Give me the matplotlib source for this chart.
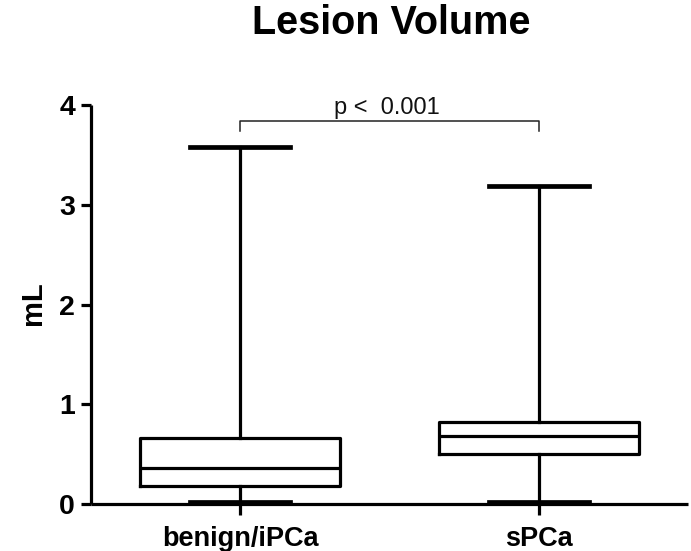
import matplotlib
matplotlib.use('Agg')
import matplotlib.pyplot as plt

categories = ['benign/iPCa', 'sPCa']
whisker_low = [0.02, 0.02]
q1 = [0.185, 0.50]
median = [0.36, 0.68]
q3 = [0.66, 0.82]
whisker_high = [3.58, 3.19]
yticks = [0, 1, 2, 3, 4]
p_text = 'p <  0.001'
title = 'Lesion Volume'
ylabel = 'mL'

plt.rcParams['font.family'] = ['Liberation Sans', 'DejaVu Sans']

fig = plt.figure(figsize=(6.91, 5.51), dpi=100)
ax = fig.add_axes([0.1317, 0.0853, 0.864, 0.7241])

positions = list(range(1, len(categories) + 1))
stats = [dict(label=c, whislo=wl, q1=a, med=m, q3=b, whishi=wh, fliers=[])
         for c, wl, a, m, b, wh in zip(categories, whisker_low, q1, median, q3, whisker_high)]

lw = 2.3
ax.bxp(stats, positions=positions, widths=0.67, showfliers=False,
       boxprops=dict(linewidth=lw, color='black', solid_joinstyle='round'),
       medianprops=dict(linewidth=lw, color='black'),
       whiskerprops=dict(linewidth=lw, color='black'),
       capprops=dict(linewidth=3.4, color='black'))

ax.set_xlim(0.5, 2.5)
ax.set_ylim(0, 4)
ax.set_yticks(yticks)
ax.set_yticklabels([str(t) for t in yticks])
ax.set_xticks(positions)
ax.set_xticklabels(categories)

for s in ['top', 'right']:
    ax.spines[s].set_visible(False)
for s in ['left', 'bottom']:
    ax.spines[s].set_linewidth(lw)
    ax.spines[s].set_capstyle('butt')

ax.tick_params(axis='y', direction='out', length=7, width=lw, pad=4.5, labelsize=20.5)
ax.tick_params(axis='x', direction='out', length=8, width=lw, pad=7.5, labelsize=19.5)
for lab in ax.get_xticklabels() + ax.get_yticklabels():
    lab.set_fontweight('bold')

# significance bracket
ax.plot([positions[0], positions[0], positions[1], positions[1]],
        [3.74, 3.84, 3.84, 3.74], color='#222222', linewidth=1.1, clip_on=False)
ax.text((positions[0] + positions[1]) / 2 - 0.01, 3.86, p_text, ha='center', va='bottom',
        fontsize=17, color='#111111')

fig.text(0.566, 1 - 23 / 551, title, ha='center', va='center', fontsize=28.5, fontweight='bold')
fig.text(33 / 691, 1 - 303 / 551, ylabel, ha='center', va='center', rotation=90,
         fontsize=21, fontweight='bold')

fig.savefig('out.png', dpi=100)
